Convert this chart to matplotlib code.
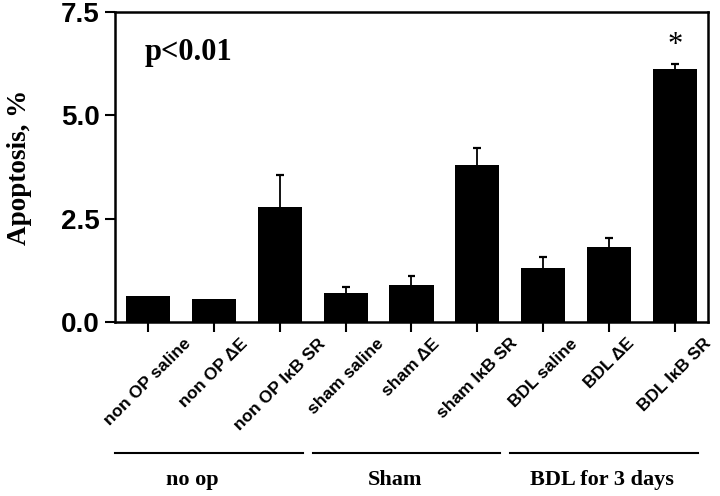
import matplotlib
matplotlib.use("Agg")
import matplotlib.pyplot as plt
import numpy as np

categories = ["non OP saline", "non OP \u0394E", "non OP I\u03baB SR",
              "sham saline", "sham \u0394E", "sham I\u03baB SR",
              "BDL saline", "BDL \u0394E", "BDL I\u03baB SR"]
values = [0.63, 0.55, 2.79, 0.69, 0.89, 3.79, 1.30, 1.82, 6.13]
errors = [0.0, 0.0, 0.77, 0.16, 0.22, 0.41, 0.28, 0.21, 0.11]
groups = ["no op", "Sham", "BDL for 3 days"]
group_members = [(0, 2), (3, 5), (6, 8)]
yticks = [0.0, 2.5, 5.0, 7.5]

fig = plt.figure(figsize=(7.2, 4.96), dpi=100)
ax = fig.add_axes([0.160, 0.351, 0.823, 0.625])

x = np.arange(len(categories))
vals = np.array(values)
errs = np.array(errors)
ax.bar(x, vals, width=0.67, color="black", zorder=2)
has_err = errs > 0
ax.vlines(x[has_err], vals[has_err], vals[has_err] + errs[has_err], color="black",
          lw=1.3, zorder=1)
ax.errorbar(x[has_err], vals[has_err] + errs[has_err], xerr=0.06, fmt="none",
            ecolor="black", elinewidth=1.6, capsize=0, zorder=1)

ax.set_xlim(-0.5, 8.5)
ax.set_ylim(0, 7.5)
ax.set_yticks(yticks)
ax.set_yticklabels([f"{v:.1f}" for v in yticks], fontfamily="Liberation Sans",
                   fontweight="bold", fontsize=20)
ax.set_xticks(x)
ax.set_xticklabels(categories, rotation=45, ha="center", fontfamily="Liberation Sans",
                   fontweight="bold", fontsize=12.5)
ax.tick_params(axis="both", direction="out", length=7, width=1.5, color="black")
ax.tick_params(axis="y", pad=4)
ax.tick_params(axis="x", pad=3)
for s in ax.spines.values():
    s.set_linewidth(1.8)

ax.set_ylabel("Apoptosis, %", fontfamily="Liberation Serif", fontweight="bold",
              fontsize=19.5, labelpad=21)

ax.text(0.05, 0.87, "p<0.01", transform=ax.transAxes, fontfamily="Liberation Serif",
        fontweight="bold", fontsize=22, ha="left", va="center")

# asterisk over the last bar
ax.annotate("*", xy=(x[-1], vals[-1] + errs[-1]), xytext=(0, 3),
            textcoords="offset points", ha="center", va="bottom",
            fontsize=22, fontfamily="Liberation Serif")

# group brackets
label_shift = [-0.33, -0.25, -0.11]
trans = matplotlib.transforms.blended_transform_factory(ax.transData, ax.transAxes)
for name, (a, b), sh in zip(groups, group_members, label_shift):
    ax.plot([a - 0.5, b + 0.35], [-0.422, -0.422], color="black", lw=1.5,
            transform=trans, clip_on=False)
    ax.text((a + b) / 2 + sh, -0.51, name, transform=trans, ha="center", va="center",
            fontfamily="Liberation Serif", fontweight="bold", fontsize=16)

fig.savefig("out.png", dpi=100)
